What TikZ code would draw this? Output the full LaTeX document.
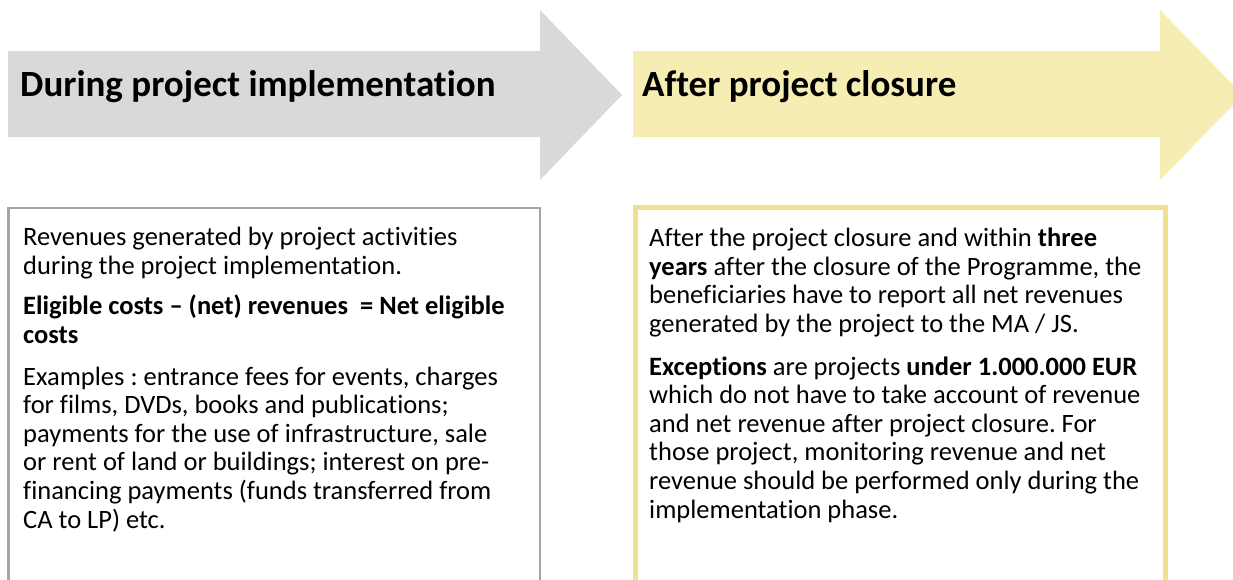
\documentclass[tikz,border=0pt]{standalone}
\usepackage{fontspec}
\setmainfont{Carlito}[Ligatures=NoCommon]
\frenchspacing
\definecolor{arrowgray}{HTML}{D9D9D9}
\definecolor{arrowgold}{HTML}{F6EDB3}
\definecolor{boxgray}{HTML}{A6A6A6}
\definecolor{boxgold}{HTML}{F0E28C}
\tikzset{
	phase/.style={font=\fontsize{37}{44}\selectfont\bfseries,anchor=base west,inner sep=0},
	note/.style={font=\fontsize{26.5}{28.6}\selectfont,align=left,anchor=base west,inner sep=0},
}
\begin{document}
\begin{tikzpicture}[x=1pt,y=-1pt]
		\useasboundingbox (0,0) rectangle (1233,579);
		\clip (0,0) rectangle (1233,579);
		% the two phase arrows
		\fill[arrowgray] (8,51)--(540,51)--(540,10)--(622,95)--(540,180)--(540,137)--(8,137)--cycle;
		\fill[arrowgold] (633,51)--(1160,51)--(1160,10)--(1243,95)--(1160,180)--(1160,137)--(633,137)--cycle;
		\node[phase] (during) at (20,96) {During project implementation};
		\node[phase] (after) at (642,96) {After project closure};
		% open boxes below the arrows (base anchor sits on the last line)
		\draw[boxgray,line width=2.5pt] (8.5,600)--(8.5,208)--(540,208)--(540,600);
		\draw[boxgold,line width=5pt] (635,600)--(635,207)--(1165,207)--(1165,600);
		\node[note] (revenues) at (23,528) {Revenues generated by project activities\\
			during the project implementation.\\[12pt]
			\textbf{Eligible costs -- (net) revenues \ = Net eligible}\\
			\textbf{costs}\\[13pt]
			Examples : entrance fees for events, charges\\
			for films, DVDs, books and publications;\\
			payments for the use of infrastructure, sale\\
			or rent of land or buildings; interest on pre-\\
			financing payments (funds transferred from\\
			CA to LP) etc.};
		\node[note] (netrev) at (649,518) {After the project closure and within \textbf{three}\\
			\textbf{years} after the closure of the Programme, the\\
			beneficiaries have to report all net revenues\\
			generated by the project to the MA / JS.\\[14pt]
			\textbf{Exceptions} are projects \textbf{under 1.000.000 EUR}\\
			which do not have to take account of revenue\\
			and net revenue after project closure. For\\
			those project, monitoring revenue and net\\
			revenue should be performed only during the\\
			implementation phase.};
\end{tikzpicture}
\end{document}
